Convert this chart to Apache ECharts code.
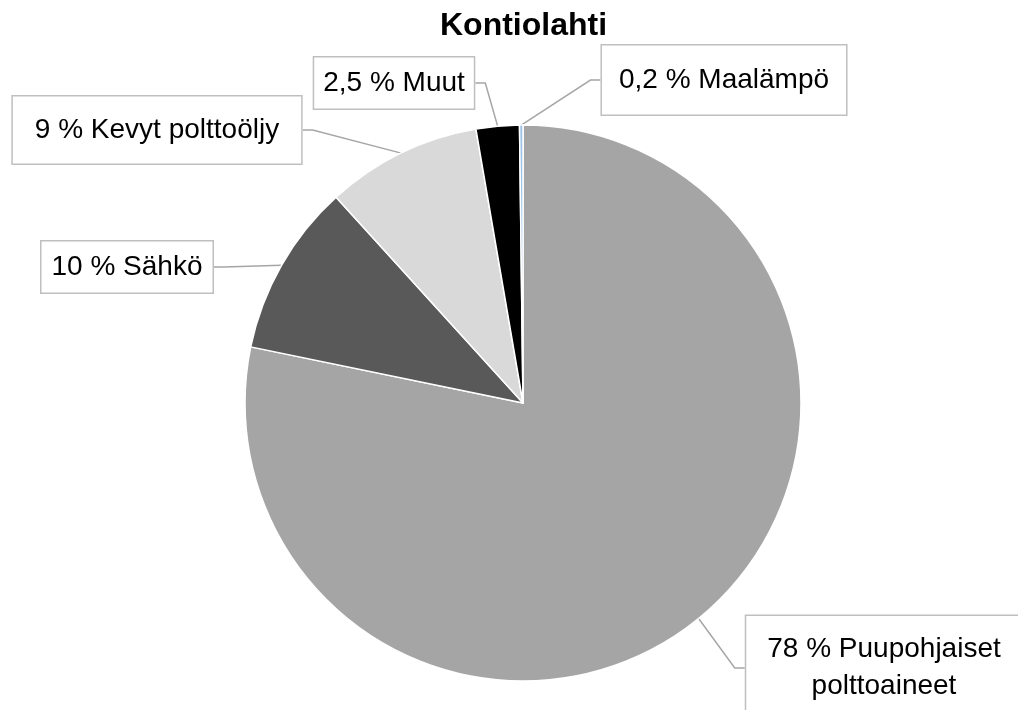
<!DOCTYPE html>
<html>
<head>
<meta charset="utf-8">
<script src="https://cdn.jsdelivr.net/npm/echarts@6/dist/echarts.min.js"></script>
<style>
  html, body { margin: 0; padding: 0; background: #fff; }
  #chart { width: 1018px; height: 710px; }
</style>
</head>
<body>
<div id="chart"></div>
<script>
// Lämmitysmuodot, Kontiolahti (%)
var categories = ["Puupohjaiset\npolttoaineet", "Sähkö", "Kevyt polttoöljy", "Muut", "Maalämpö"];
var shares = [78, 10, 9, 2.5, 0.2];
var colors = ["#a5a5a5", "#595959", "#d9d9d9", "#000000", "#9dc3e6"];

// label box centres (px) and paddings, same order as categories
var labelPos = [[884, 668], [127, 267], [157, 130], [394, 83], [724, 80]];
var labelPad = [[15, 21, 15, 21], [7, 10, 7, 10], [15, 22, 15, 22], [7, 9, 7, 9], [16, 17, 16, 17]];

var chart = echarts.init(document.getElementById("chart"));

var data = categories.map(function (name, i) {
  return {
    name: name,
    value: shares[i],
    itemStyle: { color: colors[i] },
    label: { padding: labelPad[i] },
  };
});

chart.setOption({
  animation: false,
  title: {
    text: "Kontiolahti",
    left: 435,
    top: 5,
    textStyle: {
      fontFamily: "Liberation Sans, Arial, sans-serif",
      fontWeight: "bold",
      fontSize: 32,
      color: "#000",
    },
  },
  series: [
    {
      type: "pie",
      center: [523, 403],
      radius: 278,
      startAngle: 90,
      clockwise: true,
      avoidLabelOverlap: false,
      itemStyle: {
        borderColor: "#fff",
        borderWidth: 1.5,
      },
      label: {
        show: true,
        formatter: function (p) {
          return String(p.value).replace(".", ",") + " % " + p.name;
        },
        fontFamily: "Liberation Sans, Arial, sans-serif",
        fontSize: 28,
        lineHeight: 37,
        color: "#000",
        align: "center",
        backgroundColor: "#fff",
        borderColor: "#bfbfbf",
        borderWidth: 1.5,
      },
      labelLine: {
        show: true,
        length: 15,
        length2: 10,
        lineStyle: { color: "#a6a6a6", width: 1.5 },
      },
      labelLayout: function (params) {
        var pos = labelPos[params.dataIndex];
        return {
          x: pos[0],
          y: pos[1],
          align: "center",
          verticalAlign: "middle",
        };
      },
      data: data,
    },
  ],
});
</script>
</body>
</html>
